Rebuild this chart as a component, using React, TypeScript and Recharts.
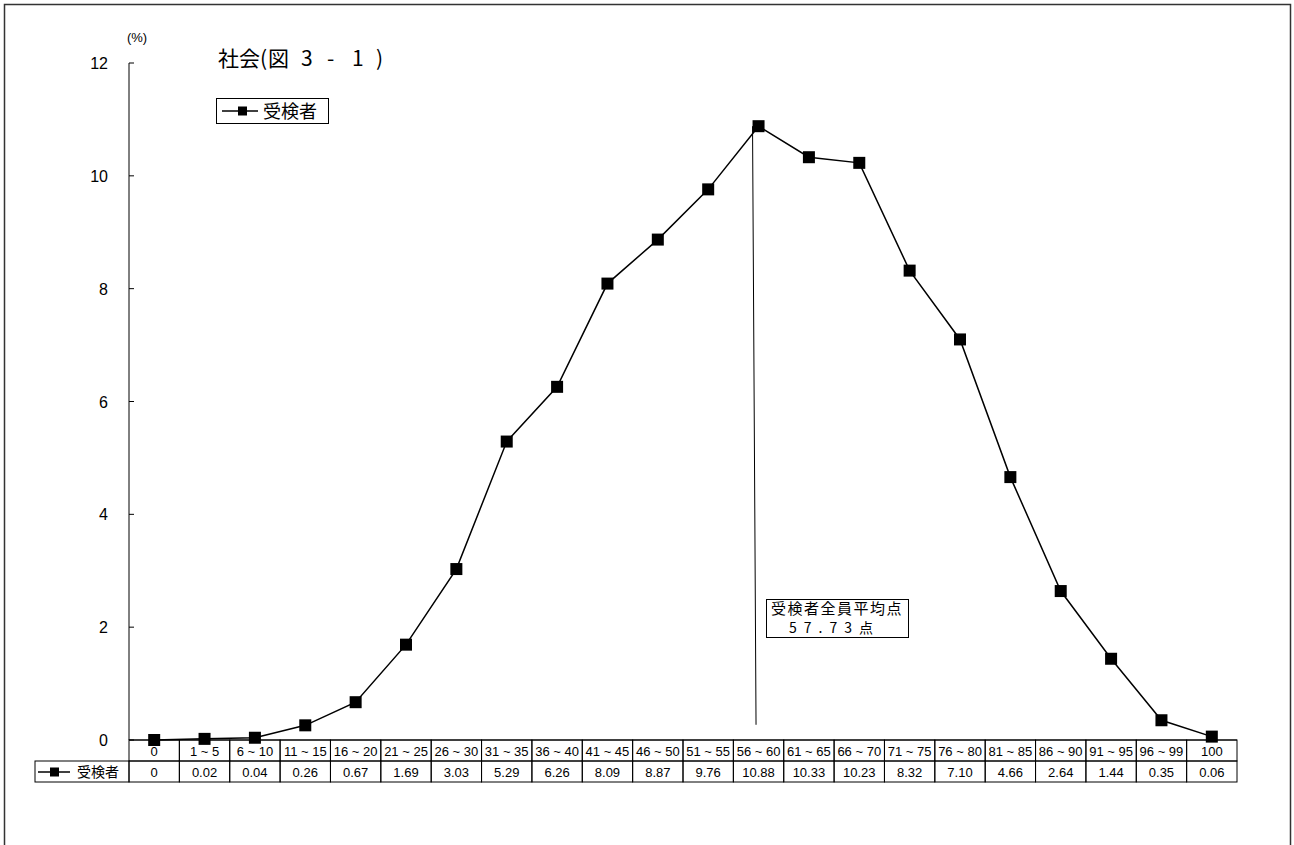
import { LineChart, Line, XAxis, YAxis, ReferenceLine } from "recharts"

const categories = [
  "0", "1 ~ 5", "6 ~ 10", "11 ~ 15", "16 ~ 20", "21 ~ 25", "26 ~ 30", "31 ~ 35",
  "36 ~ 40", "41 ~ 45", "46 ~ 50", "51 ~ 55", "56 ~ 60", "61 ~ 65", "66 ~ 70",
  "71 ~ 75", "76 ~ 80", "81 ~ 85", "86 ~ 90", "91 ~ 95", "96 ~ 99", "100",
]
const values = [
  0, 0.02, 0.04, 0.26, 0.67, 1.69, 3.03, 5.29, 6.26, 8.09, 8.87, 9.76, 10.88,
  10.33, 10.23, 8.32, 7.1, 4.66, 2.64, 1.44, 0.35, 0.06,
]
const valueLabels = [
  "0", "0.02", "0.04", "0.26", "0.67", "1.69", "3.03", "5.29", "6.26", "8.09",
  "8.87", "9.76", "10.88", "10.33", "10.23", "8.32", "7.10", "4.66", "2.64",
  "1.44", "0.35", "0.06",
]
const yTicks = [0, 2, 4, 6, 8, 10, 12]
const seriesName = "受検者"
const meanBin = "56 ~ 60"
const meanTop = 10.88
const meanBottom = 0.27
const meanCaption = "受検者全員平均点"
const meanLabel = "57.73点"

const W = 1294
const H = 845
const PLOT_LEFT = 129
const PLOT_RIGHT = 1237
const CELL_W = (PLOT_RIGHT - PLOT_LEFT) / categories.length
const ROW_H = 21
const LATIN = "'Liberation Sans', Arial, sans-serif"
const CJK = "'Noto Sans CJK JP', sans-serif"

const data = categories.map((cat, i) => ({ cat, value: values[i] }))

function SquareDot(props: any) {
  const { cx, cy } = props
  if (cx == null || cy == null) return null
  return <rect x={cx - 6} y={cy - 6} width={12} height={12} fill="#000" />
}

// the mean (57.73) sits a little left of the 56~60 bin centre, hand-drawn slant
function MeanLine(props: any) {
  const { x1, y1, x2, y2 } = props
  return <line x1={x1 - 6} y1={y1} x2={x2 - 2.5} y2={y2} stroke="#000" strokeWidth={1} />
}

function YTick(props: any) {
  const { x, y, payload } = props
  return (
    <g>
      <line x1={x} y1={y} x2={x + 5} y2={y} stroke="#000" />
      <text x={x - 21} y={y + 6} textAnchor="end" fontSize={16} fontFamily={LATIN} fill="#000">
        {payload.value}
      </text>
    </g>
  )
}

// data table drawn under the axis, one column per category
function TableTick(props: any) {
  const { x, y, payload, index } = props
  const left = x - CELL_W / 2
  return (
    <g>
      {index === 0 && (
        <g>
          <rect x={35} y={y + ROW_H} width={PLOT_LEFT - 35} height={ROW_H} fill="none" stroke="#000" />
          <line x1={38} y1={y + ROW_H + 11} x2={70} y2={y + ROW_H + 11} stroke="#000" strokeWidth={1.5} />
          <rect x={50} y={y + ROW_H + 6.5} width={9} height={9} fill="#000" />
          <text x={77} y={y + ROW_H + 16} fontSize={14} fontFamily={CJK} fill="#000">
            {seriesName}
          </text>
        </g>
      )}
      <rect x={left} y={y} width={CELL_W} height={ROW_H} fill="none" stroke="#000" />
      <rect x={left} y={y + ROW_H} width={CELL_W} height={ROW_H} fill="none" stroke="#000" />
      <text x={x} y={y + 16} textAnchor="middle" fontSize={13} fontFamily={LATIN} fill="#000">
        {payload.value}
      </text>
      <text x={x} y={y + ROW_H + 16} textAnchor="middle" fontSize={13} fontFamily={LATIN} fill="#000">
        {valueLabels[index]}
      </text>
    </g>
  )
}

export default function App() {
  return (
    <div style={{ position: "absolute", left: 0, top: 0, width: W, height: H, overflow: "hidden", background: "#fff" }}>
      <div style={{ position: "absolute", left: 0, top: 0 }}>
        <LineChart
          width={W}
          height={H}
          data={data}
          margin={{ top: 63, right: W - PLOT_RIGHT, bottom: 63, left: 0 }}
        >
          <XAxis
            dataKey="cat"
            scale="point"
            interval={0}
            padding={{ left: CELL_W / 2, right: CELL_W / 2 }}
            height={42}
            tickLine={false}
            tickSize={0}
            tickMargin={0}
            axisLine={{ stroke: "#000" }}
            tick={TableTick}
          />
          <YAxis
            domain={[0, 12]}
            ticks={yTicks}
            width={PLOT_LEFT}
            tickLine={false}
            tickSize={0}
            tickMargin={0}
            axisLine={{ stroke: "#000" }}
            tick={YTick}
          />
          <ReferenceLine
            segment={[
              { x: meanBin, y: meanTop },
              { x: meanBin, y: meanBottom },
            ]}
            stroke="#000"
            shape={MeanLine}
          />
          <Line
            type="linear"
            dataKey="value"
            stroke="#000"
            strokeWidth={1.5}
            dot={<SquareDot />}
            isAnimationActive={false}
          />
        </LineChart>
      </div>
      <svg width={W} height={H} style={{ position: "absolute", left: 0, top: 0, pointerEvents: "none" }}>
        <rect x={4.5} y={4.5} width={1286} height={860} fill="none" stroke="#333" strokeWidth={1.5} />
        <text x={137} y={42} textAnchor="middle" fontSize={13} fontFamily={LATIN} fill="#000">(%)</text>
        <text y={66} fontSize={21} fontFamily={CJK} fill="#000">
          <tspan x={218}>社会</tspan>
          <tspan x={260}>(</tspan>
          <tspan x={268}>図</tspan>
          <tspan x={301}>3</tspan>
          <tspan x={327}>-</tspan>
          <tspan x={352}>1</tspan>
          <tspan x={376}>)</tspan>
        </text>
        <rect x={216.5} y={98.5} width={112} height={25} fill="#fff" stroke="#000" />
        <line x1={222} y1={111} x2={258} y2={111} stroke="#000" strokeWidth={1.5} />
        <rect x={238} y={106.5} width={9} height={9} fill="#000" />
        <text x={263} y={118} fontSize={18} fontFamily={CJK} fill="#000">{seriesName}</text>
        <rect x={766.5} y={599.5} width={142} height={38} fill="#fff" stroke="#000" />
        <text x={837} y={614} textAnchor="middle" fontSize={15} fontFamily={CJK} fill="#000" letterSpacing={1.5}>
          {meanCaption}
        </text>
        <text x={789} y={633} fontSize={14} fontFamily={CJK} fill="#000" textLength={84} lengthAdjust="spacing">
          {meanLabel}
        </text>
      </svg>
    </div>
  )
}
